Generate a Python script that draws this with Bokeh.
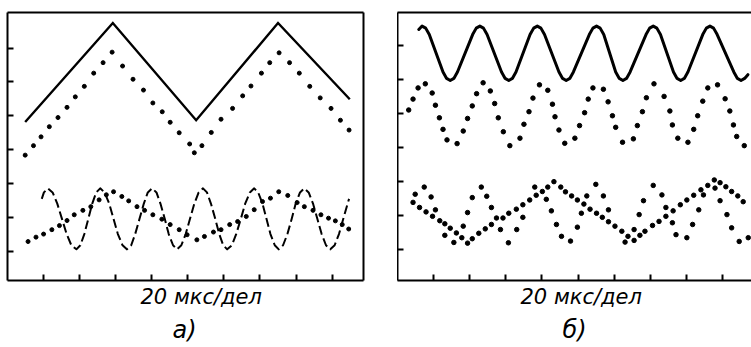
from bokeh.plotting import figure
from bokeh.layouts import row
from bokeh.models import LinearAxis, FixedTicker, Range1d, Title
from bokeh.embed import file_html
from bokeh.resources import INLINE

FONT = "DejaVu Sans"
AXIS_TEXT = "20 мкс/дел"
X_TICKS = [1, 2, 3, 4, 5, 6, 7, 8, 9]
Y_TICKS = [1, 2, 3, 4, 5, 6, 7]

# ---------------- panel а) ----------------
a_solid_x = [0.49, 2.92, 5.23, 7.50, 9.49]
a_solid_y = [4.82, 7.74, 4.87, 7.74, 5.49]

a_tri_x = [0.49, 0.72, 0.93, 1.16, 1.40, 1.65, 1.88, 2.13, 2.39, 2.65,
           2.90, 3.19, 3.48, 3.77, 4.03, 4.29, 4.51, 4.76, 5.05, 5.18,
           5.39, 5.65, 5.92, 6.24, 6.52, 6.75, 7.04, 7.27, 7.53, 7.82,
           8.09, 8.38, 8.67, 8.97, 9.23, 9.47]
a_tri_y = [3.84, 4.12, 4.38, 4.68, 4.95, 5.25, 5.56, 5.87, 6.26, 6.57,
           6.88, 6.47, 6.08, 5.76, 5.38, 5.12, 4.81, 4.50, 4.17, 3.91,
           4.12, 4.51, 4.90, 5.22, 5.59, 5.88, 6.26, 6.57, 6.86, 6.57,
           6.26, 5.87, 5.53, 5.22, 4.87, 4.58]

a_dash_x = [0.95, 1.01, 1.12,
            1.25, 1.38, 1.51, 1.64, 1.77, 1.91,
            2.02, 2.13, 2.24, 2.35, 2.46, 2.57,
            2.69, 2.82, 2.94, 3.06, 3.19, 3.31,
            3.43, 3.54, 3.66, 3.78, 3.89, 4.01,
            4.13, 4.24, 4.36, 4.47, 4.59, 4.70,
            4.82, 4.94, 5.06, 5.18, 5.30, 5.42,
            5.53, 5.64, 5.76, 5.87, 5.98, 6.09,
            6.22, 6.34, 6.47, 6.59, 6.72, 6.84,
            6.95, 7.07, 7.18, 7.29, 7.41, 7.52,
            7.64, 7.76, 7.88, 7.99, 8.11, 8.23,
            8.35, 8.47, 8.59, 8.71, 8.83, 8.95,
            9.07, 9.19, 9.31, 9.43, 9.47]
a_dash_y = [2.55, 2.74, 2.86,
            2.74, 2.41, 1.96, 1.51, 1.18, 1.06,
            1.18, 1.51, 1.96, 2.41, 2.74, 2.86,
            2.74, 2.41, 1.96, 1.51, 1.18, 1.06,
            1.18, 1.51, 1.96, 2.41, 2.74, 2.86,
            2.74, 2.41, 1.96, 1.51, 1.18, 1.06,
            1.18, 1.51, 1.96, 2.41, 2.74, 2.86,
            2.74, 2.41, 1.96, 1.51, 1.18, 1.06,
            1.18, 1.51, 1.96, 2.41, 2.74, 2.86,
            2.74, 2.41, 1.96, 1.51, 1.18, 1.06,
            1.18, 1.51, 1.96, 2.41, 2.74, 2.86,
            2.74, 2.41, 1.96, 1.51, 1.18, 1.06,
            1.18, 1.51, 1.96, 2.41, 2.55]

a_slow_x = [0.57, 0.79, 1.00, 1.23, 1.44, 1.65, 1.85, 2.09, 2.31, 2.54,
            2.74, 2.94, 3.17, 3.36, 3.59, 3.80, 4.03, 4.28, 4.51, 4.76,
            4.98, 5.25, 5.46, 5.71, 5.92, 6.16, 6.38, 6.62, 6.84, 7.07,
            7.29, 7.52, 7.77, 8.03, 8.23, 8.47, 8.69, 8.90, 9.09, 9.28,
            9.46]
a_slow_y = [1.29, 1.42, 1.51, 1.64, 1.76, 1.91, 2.08, 2.21, 2.32, 2.52,
            2.67, 2.76, 2.62, 2.49, 2.32, 2.21, 2.08, 1.95, 1.79, 1.64,
            1.49, 1.34, 1.44, 1.57, 1.64, 1.79, 1.88, 2.03, 2.23, 2.47,
            2.57, 2.76, 2.65, 2.44, 2.32, 2.21, 2.08, 1.98, 1.90, 1.79,
            1.66]

# ---------------- panel б) ----------------
b_solid_x = [0.59, 0.68,
             0.78, 0.88, 1.26, 1.36, 1.46,
             1.56, 1.66, 2.08, 2.18, 2.28,
             2.38, 2.48, 2.88, 2.98, 3.08,
             3.18, 3.28, 3.67, 3.77, 3.87,
             3.97, 4.07, 4.47, 4.57, 4.67,
             4.77, 4.87, 5.31, 5.41, 5.51,
             5.61, 5.71, 6.04, 6.14, 6.24,
             6.34, 6.44, 6.88, 6.98, 7.08,
             7.18, 7.28, 7.64, 7.74, 7.84,
             7.94, 8.04, 8.45, 8.55, 8.65,
             8.75, 8.85, 9.31, 9.41, 9.51,
             9.61, 9.70]
b_solid_y = [7.48, 7.58,
             7.52, 7.33, 6.23, 6.04, 5.98,
             6.04, 6.23, 7.33, 7.52, 7.58,
             7.52, 7.33, 6.23, 6.04, 5.98,
             6.04, 6.23, 7.33, 7.52, 7.58,
             7.52, 7.33, 6.23, 6.04, 5.98,
             6.04, 6.23, 7.33, 7.52, 7.58,
             7.52, 7.33, 6.23, 6.04, 5.98,
             6.04, 6.23, 7.33, 7.52, 7.58,
             7.52, 7.33, 6.23, 6.04, 5.98,
             6.04, 6.23, 7.33, 7.52, 7.58,
             7.52, 7.33, 6.23, 6.04, 5.98,
             6.04, 6.15]

b_sine_x = [0.31, 0.43, 0.57, 0.77, 0.96, 1.05, 1.16, 1.26, 1.37, 1.65,
            1.82, 1.94, 2.07, 2.19, 2.37, 2.57, 2.69, 2.79, 2.93, 3.11,
            3.39, 3.50, 3.64, 3.75, 3.93, 4.16, 4.29, 4.36, 4.47, 4.63,
            4.91, 5.04, 5.18, 5.28, 5.41, 5.70, 5.83, 5.95, 6.04, 6.23,
            6.53, 6.64, 6.78, 6.89, 7.10, 7.38, 7.54, 7.61, 7.76, 8.04,
            8.20, 8.31, 8.45, 8.59, 8.86, 9.07, 9.20, 9.30, 9.39, 9.60]
b_sine_y = [5.11, 5.43, 5.76, 5.88, 5.61, 5.25, 4.88, 4.54, 4.23, 4.12,
            4.49, 4.86, 5.23, 5.59, 5.91, 5.67, 5.30, 4.88, 4.47, 4.06,
            4.28, 4.69, 5.06, 5.46, 5.85, 5.69, 5.28, 4.91, 4.52, 4.13,
            4.28, 4.65, 5.03, 5.43, 5.76, 5.72, 5.35, 4.94, 4.60, 4.16,
            4.26, 4.65, 5.06, 5.47, 5.88, 5.51, 5.08, 4.67, 4.28, 4.16,
            4.54, 4.94, 5.37, 5.76, 5.85, 5.44, 5.08, 4.67, 4.33, 4.06]

b_tri_x = [0.43, 0.61, 0.79, 0.97, 1.17, 1.31, 1.46, 1.63, 1.78, 1.94,
           2.07, 2.25, 2.43, 2.60, 2.92, 3.08, 3.29, 3.47, 3.66, 3.84,
           4.01, 4.16, 4.33, 4.52, 4.65, 4.82, 4.98, 5.16, 5.33, 5.51,
           5.67, 5.84, 6.02, 6.21, 6.38, 6.55, 6.71, 6.85, 7.06, 7.24,
           7.43, 7.63, 7.83, 8.01, 8.20, 8.40, 8.59, 8.77, 8.93, 9.09,
           9.25, 9.42, 9.57]
b_tri_y = [2.39, 2.24, 2.11, 1.98, 1.85, 1.76, 1.63, 1.49, 1.35, 1.19,
           1.32, 1.48, 1.61, 1.74, 1.93, 2.07, 2.19, 2.32, 2.46, 2.60,
           2.71, 2.84, 3.00, 2.84, 2.70, 2.58, 2.46, 2.34, 2.19, 2.07,
           1.95, 1.82, 1.69, 1.54, 1.39, 1.27, 1.42, 1.54, 1.71, 1.83,
           1.98, 2.14, 2.32, 2.46, 2.60, 2.76, 2.89, 3.05, 2.97, 2.85,
           2.71, 2.58, 2.41]

b_fast_x = [0.49, 0.74, 0.93, 1.05, 1.31, 1.56, 1.82, 1.94, 2.07, 2.32,
            2.47, 2.60, 2.74, 2.85, 3.07, 3.30, 3.47, 3.80, 4.12, 4.26,
            4.40, 4.54, 4.79, 4.98, 5.09, 5.24, 5.49, 5.70, 5.84, 6.30,
            6.55, 6.69, 6.81, 7.08, 7.32, 7.43, 7.61, 7.71, 8.01, 8.17,
            8.34, 8.47, 8.79, 8.93, 9.12, 9.25, 9.46, 9.71]
b_fast_y = [2.63, 2.84, 2.55, 2.17, 1.42, 1.21, 1.69, 2.09, 2.53, 2.84,
            2.57, 2.24, 1.93, 1.59, 1.20, 1.59, 1.95, 2.84, 2.48, 2.14,
            1.74, 1.39, 1.25, 1.66, 2.07, 2.58, 2.92, 2.58, 2.17, 1.22,
            1.59, 2.03, 2.44, 2.89, 2.61, 2.24, 1.79, 1.44, 1.35, 1.74,
            2.17, 2.61, 2.81, 2.44, 2.03, 1.64, 1.24, 1.35]


def style_axis(ax, ticks):
    ax.ticker = FixedTicker(ticks=ticks)
    ax.major_tick_in = 6
    ax.major_tick_out = 0
    ax.major_tick_line_width = 2
    ax.major_tick_line_color = "black"
    ax.minor_tick_line_color = None
    ax.axis_line_width = 2
    ax.axis_line_color = "black"
    ax.major_label_text_font_size = "1px"
    ax.major_label_text_color = None
    ax.major_label_standoff = 0
    ax.axis_label_standoff = 0


def make_panel(width, x_end, y_start, y_end, left, top, right, right_border,
               label_offset, letter, letter_offset):
    p = figure(width=width, height=347,
               x_range=Range1d(0, x_end), y_range=Range1d(y_start, y_end),
               output_backend="svg", toolbar_location=None,
               min_border_left=left, min_border_right=right,
               min_border_top=top, min_border_bottom=66,
               outline_line_color=None,
               background_fill_color="white", border_fill_color="white")
    p.grid.visible = False
    style_axis(p.xaxis[0], X_TICKS)
    style_axis(p.yaxis[0], Y_TICKS)
    top_ax = LinearAxis()
    style_axis(top_ax, [])
    p.add_layout(top_ax, "above")
    if right_border:
        right_ax = LinearAxis()
        style_axis(right_ax, [])
        p.add_layout(right_ax, "right")
    t1 = Title(text=AXIS_TEXT, align="left", offset=label_offset,
               text_font=FONT, text_font_style="italic",
               text_font_size="21px", text_color="black", standoff=4)
    p.add_layout(t1, "below")
    t2 = Title(text=letter, align="left", offset=letter_offset,
               text_font=FONT, text_font_style="italic",
               text_font_size="24px", text_color="black", standoff=7)
    p.add_layout(t2, "below")
    return p


pa = make_panel(397, 9.87, 0.14, 8.05, 7, 12, 34, True, 133, "а)", 165)
pa.line(a_solid_x, a_solid_y, line_color="black", line_width=2.4,
        line_join="miter")
pa.scatter(a_tri_x, a_tri_y, size=4, color="black")
pa.line(a_dash_x, a_dash_y, line_color="black", line_width=2,
        line_dash="9 4", line_join="round")
pa.scatter(a_slow_x, a_slow_y, size=4, color="black")

pb = make_panel(354, 9.80, 0.09, 7.98, 0, 10, 0, False, 123, "б)", 165)
pb.line(b_solid_x, b_solid_y, line_color="black", line_width=3,
        line_join="round", line_cap="round")
pb.scatter(b_sine_x, b_sine_y, size=4.5, color="black")
pb.scatter(b_tri_x, b_tri_y, size=4.5, color="black")
pb.scatter(b_fast_x, b_fast_y, size=4.5, color="black")

layout = row(pa, pb)
open("out.html", "w").write(file_html(layout, INLINE))
